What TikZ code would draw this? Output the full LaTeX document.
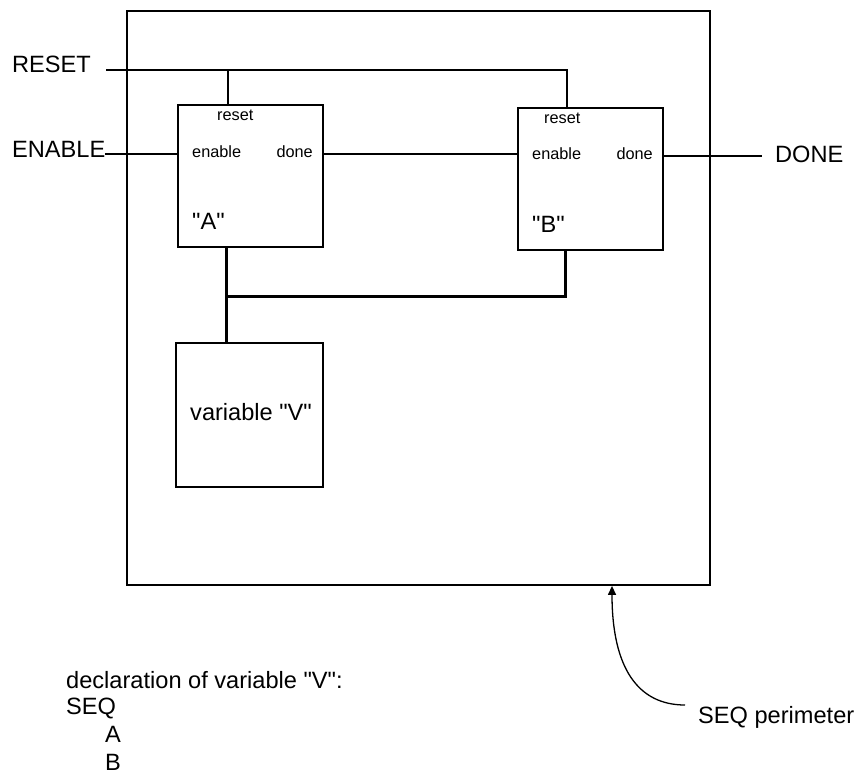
\documentclass[tikz,border=0pt]{standalone}
\usepackage{fontspec}
\setmainfont{Liberation Sans}[Ligatures=TeXOff]
\usetikzlibrary{arrows.meta}
\begin{document}
\begin{tikzpicture}[x=1pt,y=-1pt,
  big/.style={font=\fontsize{23.6}{28}\selectfont, inner sep=0pt},
  small/.style={font=\fontsize{16.3}{19}\selectfont, inner sep=0pt},
  wire/.style={line width=1.3pt},
  bus/.style={line width=3pt},
  box/.style={draw, line width=1.4pt, inner sep=0pt, minimum width=145pt, minimum height=142pt}]
\useasboundingbox (0,0) rectangle (865,776);

% outer SEQ perimeter
\node[box, line width=1.8pt, minimum width=583pt, minimum height=574pt] (seq) at (418.5,298) {};

% process boxes
\node[box] (A) at (250.5,176) {};
\node[box] (B) at (590.5,179) {};
\node[box, minimum width=147pt, minimum height=144pt] (V) at (249.5,415) {};

% labels inside A
\node[small, anchor=base west] (Areset) at (217,121) {reset};
\node[small, anchor=base west] (Aenable) at (192,157) {enable};
\node[small, anchor=base east] (Adone) at (313,157) {done};
\node[big, anchor=base west] (Aname) at (192,229) {"A"};

% labels inside B
\node[small, anchor=base west] (Breset) at (544,123) {reset};
\node[small, anchor=base west] (Benable) at (532,159) {enable};
\node[small, anchor=base east] (Bdone) at (653,159) {done};
\node[big, anchor=base west] (Bname) at (532,232) {"B"};

% label inside V
\node[big, anchor=base west] (Vname) at (190,420) {variable "V"};

% outside labels
\node[big, anchor=base west] (RESET) at (12,73) {RESET};
\node[big, anchor=base west] (ENABLE) at (12,157) {ENABLE};
\node[big, anchor=base west] (DONE) at (775,162) {DONE};

% reset wiring
\coordinate (rstart) at (106,70);
\coordinate (ra) at (228,70);
\coordinate (rb) at (567,70);
\draw[wire] (rstart) -- (rb) -- (rb |- B.north);
\draw[wire] (ra) -- (ra |- A.north);

% enable / done wiring
\coordinate (en) at (105,154);
\draw[wire] (en) -- (en -| A.west);
\coordinate (ad) at (323,154);
\draw[wire] (ad -| A.east) -- (ad -| B.west);
\coordinate (dn) at (762,156);
\draw[wire] (dn -| B.east) -- (dn);

% variable bus
\coordinate (ba) at (226,296);
\coordinate (bb) at (565,296);
\draw[bus] (ba |- A.south) -- (ba |- V.north);
\draw[bus] (ba) -- (bb) -- (bb |- B.south);

% declaration text
\node[big, anchor=base west] (decl) at (66,688) {declaration of variable "V":};
\node[big, anchor=base west] (dseq) at (66,714) {SEQ};
\node[big, anchor=base west] (da) at (105,742) {A};
\node[big, anchor=base west] (db) at (105,770) {B};

% SEQ perimeter pointer
\node[big, anchor=base west] (perim) at (698,723) {SEQ perimeter};
\coordinate (tipx) at (612,0);
\coordinate (pend) at (685,705);
\draw[wire, {Triangle[length=9pt,width=8pt]}-] (tipx |- seq.south) .. controls (612,668) and (638,705) .. (pend);
\end{tikzpicture}
\end{document}
